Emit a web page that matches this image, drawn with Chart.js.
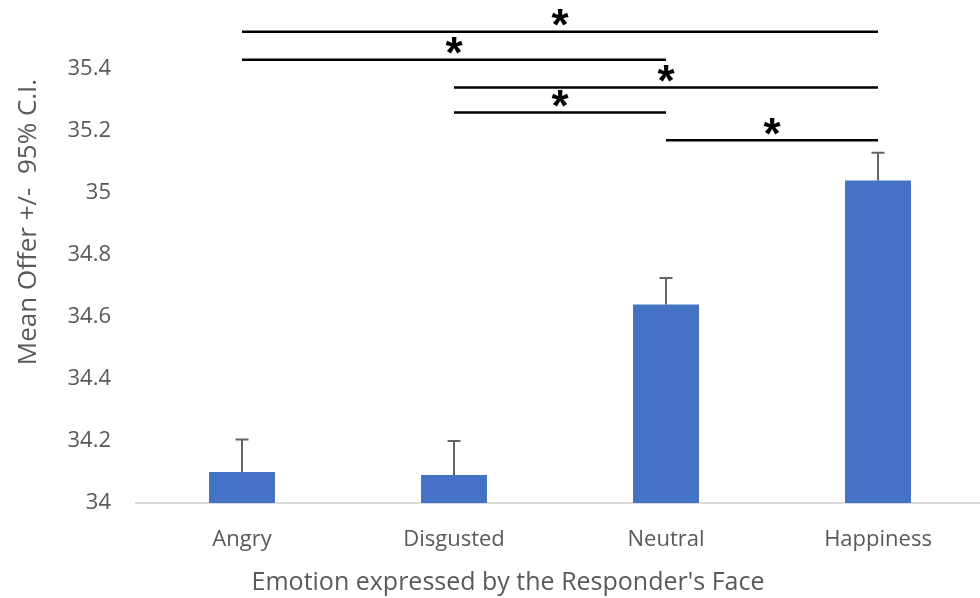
<!DOCTYPE html>
<html>
<head>
<meta charset="utf-8">
<script src="https://cdn.jsdelivr.net/npm/chart.js@4/dist/chart.umd.min.js"></script>
<style>
  html, body { margin: 0; padding: 0; background: #ffffff; overflow: hidden; }
  #wrap { position: relative; width: 984px; height: 598px; }
</style>
</head>
<body>
<div id="wrap"><canvas id="chart"></canvas></div>
<script>
// Emotion shown on the responder's face and the mean offer made to it
const emotions = ['Angry', 'Disgusted', 'Neutral', 'Happiness'];
const meanOffer = [34.10, 34.09, 34.64, 35.04];
// upper half-width of the 95% confidence interval
const ciHalfWidth = [0.105, 0.11, 0.086, 0.09];

// y-axis range and tick step
const yMin = 34;
const yMax = 35.6;
const yStep = 0.2;

// pairwise significant differences: from / to category, bracket height (in offer units), marker
const compareFrom = ['Angry', 'Angry', 'Disgusted', 'Disgusted', 'Neutral'];
const compareTo = ['Happiness', 'Neutral', 'Happiness', 'Neutral', 'Happiness'];
const compareLevel = [35.52, 35.43, 35.34, 35.26, 35.17];
const compareMark = ['*', '*', '*', '*', '*'];

const xTitle = "Emotion expressed by the Responder's Face";
const yTitle = 'Mean Offer +/-  95% C.I.';

const textGrey = '#595959';
const fontFamily = '"Open Sans", "Noto Sans", sans-serif';

const overlay = {
  id: 'overlay',
  afterDatasetsDraw(chart) {
    const ctx = chart.ctx;
    const ys = chart.scales.y;
    const xs = chart.scales.x;
    const meta = chart.getDatasetMeta(0);

    // upper error bars
    ctx.save();
    ctx.strokeStyle = '#646464';
    ctx.lineWidth = 2;
    meta.data.forEach((bar, i) => {
      const top = ys.getPixelForValue(meanOffer[i]);
      const end = ys.getPixelForValue(meanOffer[i] + ciHalfWidth[i]);
      ctx.beginPath();
      ctx.moveTo(bar.x, top);
      ctx.lineTo(bar.x, end);
      ctx.moveTo(bar.x - 6.5, end);
      ctx.lineTo(bar.x + 6.5, end);
      ctx.stroke();
    });
    ctx.restore();

    // significance brackets
    ctx.save();
    ctx.strokeStyle = '#000000';
    ctx.fillStyle = '#000000';
    ctx.lineWidth = 2.5;
    ctx.font = 'bold 44px "Liberation Sans", Arial, sans-serif';
    ctx.textAlign = 'center';
    ctx.textBaseline = 'alphabetic';
    compareLevel.forEach((lvl, k) => {
      const x1 = xs.getPixelForValue(emotions.indexOf(compareFrom[k]));
      const x2 = xs.getPixelForValue(emotions.indexOf(compareTo[k]));
      const y = ys.getPixelForValue(lvl);
      ctx.beginPath();
      ctx.moveTo(x1, y);
      ctx.lineTo(x2, y);
      ctx.stroke();
      const m = ctx.measureText(compareMark[k]);
      const glyphMid = (m.actualBoundingBoxAscent - m.actualBoundingBoxDescent) / 2;
      ctx.fillText(compareMark[k], (x1 + x2) / 2, y - 14 + glyphMid);
    });
    ctx.restore();

    // axis titles
    ctx.save();
    ctx.fillStyle = textGrey;
    ctx.textAlign = 'center';
    ctx.textBaseline = 'middle';
    ctx.font = '25px ' + fontFamily;
    ctx.fillText(xTitle, 508, 583);
    ctx.translate(29, 222);
    ctx.rotate(-Math.PI / 2);
    ctx.font = '26px ' + fontFamily;
    ctx.fillText(yTitle, 0, 0);
    ctx.restore();
  }
};

new Chart(document.getElementById('chart'), {
  type: 'bar',
  data: {
    labels: emotions,
    datasets: [{
      data: meanOffer,
      backgroundColor: '#4472C4',
      borderWidth: 0,
      barPercentage: 0.311,
      categoryPercentage: 1
    }]
  },
  options: {
    responsive: true,
    maintainAspectRatio: false,
    animation: false,
    layout: { padding: { top: 7, right: 0, bottom: 0, left: 0 } },
    plugins: {
      legend: { display: false },
      tooltip: { enabled: false }
    },
    scales: {
      x: {
        grid: { display: false, drawTicks: false },
        border: { display: true, color: '#d9d9d9', width: 2 },
        ticks: {
          color: textGrey,
          font: { family: fontFamily, size: 22 },
          padding: 24,
          maxRotation: 0
        },
        afterFit(scale) {
          scale.height = 95;
          scale.paddingLeft = 0;
          scale.paddingRight = 0;
        }
      },
      y: {
        min: yMin,
        max: yMax,
        grid: { display: false, drawTicks: false },
        border: { display: false },
        ticks: {
          stepSize: yStep,
          color: textGrey,
          font: { family: fontFamily, size: 22 },
          padding: 25,
          callback(v) {
            const r = Math.round(v * 10) / 10;
            return r >= yMax ? '' : String(r);
          }
        },
        afterFit(scale) {
          scale.width = 136;
          scale.paddingTop = 0;
          scale.paddingBottom = 0;
        }
      }
    }
  },
  plugins: [overlay]
});
</script>
</body>
</html>
